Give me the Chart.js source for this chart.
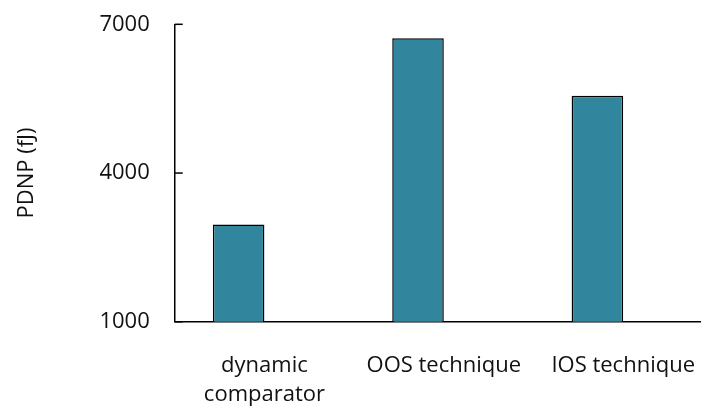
<!DOCTYPE html>
<html lang="en">
<head>
  <meta charset="UTF-8">
  <title>PDNP comparison</title>
  <script src="https://cdn.jsdelivr.net/npm/chart.js"></script>
  <style>
    * { margin: 0; padding: 0; box-sizing: border-box; }
    body { background: #fff; width: 701px; height: 409px; overflow: hidden; }
    /* the original figure is cropped at the top and right edge */
    .wrap { width: 725px; height: 454px; margin-top: -15px; }
  </style>
</head>
<body>
  <div class="wrap"><canvas id="pdnpChart"></canvas></div>

  <script>
    // values
    const categories = [['dynamic', 'comparator'], 'OOS technique', 'IOS technique'];
    const pdnpValues = [2960, 6720, 5560];
    // empty second series, so the bars sit left of centre like the original
    const emptySeries = [null, null, null];
    const yTicks = [1000, 4000, 7000];

    const font = { family: "'Open Sans', sans-serif", size: 22, lineHeight: 1.3 };

    // Excel style tick marks pointing into the plot
    const innerTicks = {
      id: 'innerTicks',
      afterDatasetsDraw(chart) {
        const y = chart.scales.y;
        const left = chart.chartArea.left;
        const c = chart.ctx;
        c.save();
        c.strokeStyle = '#000';
        c.lineWidth = 1.5;
        y.ticks.forEach(t => {
          const py = y.getPixelForValue(t.value);
          c.beginPath();
          c.moveTo(left, py);
          c.lineTo(left + 8, py);
          c.stroke();
        });
        c.restore();
      }
    };

    const ctx = document.getElementById('pdnpChart').getContext('2d');
    new Chart(ctx, {
      type: 'bar',
      data: {
        labels: categories,
        datasets: [
          {
            label: 'PDNP',
            data: pdnpValues,
            backgroundColor: '#31859c',
            borderColor: '#000',
            borderWidth: 1.5,
            categoryPercentage: 0.575,
            barPercentage: 1
          },
          {
            label: 'empty',
            data: emptySeries,
            categoryPercentage: 0.575,
            barPercentage: 1
          }
        ]
      },
      options: {
        responsive: true,
        maintainAspectRatio: false,
        animation: false,
        layout: { padding: 0 },
        plugins: {
          legend: { display: false },
          tooltip: { enabled: false }
        },
        scales: {
          x: {
            grid: { display: false, drawTicks: false },
            border: { color: '#000', width: 1.5 },
            ticks: { color: '#111', font: font, padding: 30, maxRotation: 0 }
          },
          y: {
            min: yTicks[0],
            max: yTicks[yTicks.length - 1],
            afterBuildTicks: axis => { axis.ticks = yTicks.map(v => ({ value: v })); },
            grid: { drawOnChartArea: false, drawTicks: false },
            border: { color: '#000', width: 1.5 },
            ticks: { color: '#111', font: font, padding: 25, callback: v => String(v) },
            title: {
              display: true,
              text: 'PDNP (fJ)',
              color: '#111',
              font: { family: font.family, size: 22 },
              padding: { top: 14, bottom: 34 }
            }
          }
        }
      },
      plugins: [innerTicks]
    });
  </script>
</body>
</html>
